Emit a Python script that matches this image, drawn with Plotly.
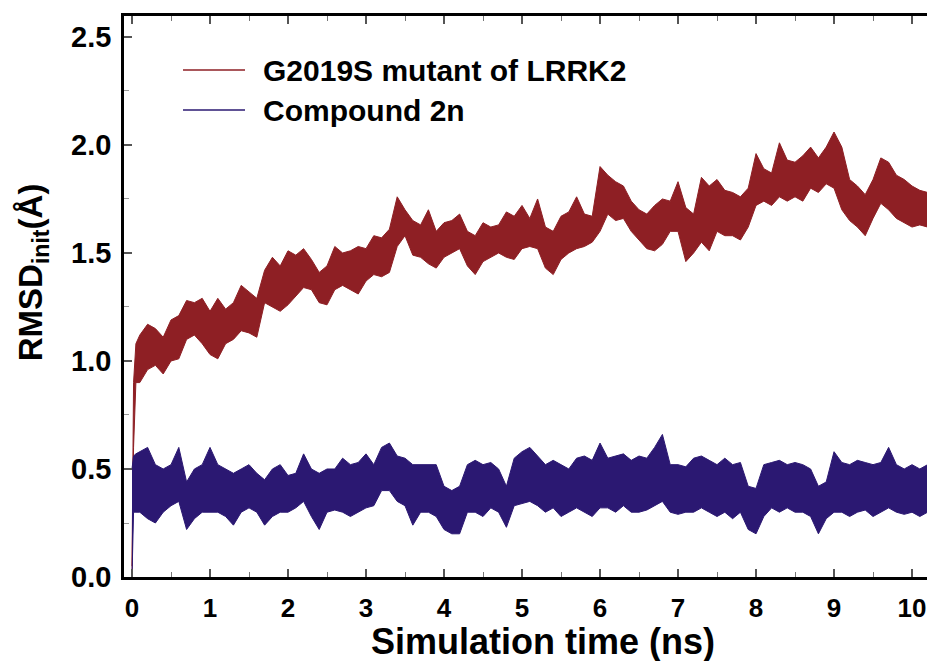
import plotly.graph_objects as go

# ---- data ----
t_start = [0.0, 0.02, 0.05]
t_main = [round(0.1 * i, 1) for i in range(1, 103)]
time_ns = t_start + t_main

mut_hi = [0.05, 0.9, 1.08,
    1.12, 1.17, 1.15, 1.11, 1.19, 1.21, 1.28, 1.27, 1.29, 1.23,
    1.29, 1.24, 1.27, 1.35, 1.32, 1.29, 1.42, 1.48, 1.44, 1.51,
    1.49, 1.52, 1.47, 1.41, 1.44, 1.53, 1.50, 1.51, 1.53, 1.52,
    1.58, 1.57, 1.61, 1.76, 1.70, 1.65, 1.63, 1.70, 1.60, 1.64,
    1.65, 1.68, 1.60, 1.58, 1.64, 1.62, 1.63, 1.69, 1.67, 1.72,
    1.66, 1.75, 1.62, 1.60, 1.67, 1.69, 1.76, 1.68, 1.67, 1.90,
    1.86, 1.83, 1.81, 1.74, 1.70, 1.68, 1.72, 1.75, 1.74, 1.83,
    1.71, 1.68, 1.85, 1.81, 1.84, 1.79, 1.78, 1.76, 1.80, 1.96,
    1.89, 1.87, 2.01, 1.93, 1.92, 1.95, 1.99, 1.94, 1.99, 2.06,
    1.99, 1.84, 1.81, 1.77, 1.84, 1.94, 1.92, 1.86, 1.84, 1.81,
    1.79, 1.78]
mut_lo = [0.0, 0.6, 0.9,
    0.90, 0.96, 0.98, 0.94, 1.00, 1.01, 1.10, 1.12, 1.08, 1.03,
    1.01, 1.08, 1.10, 1.14, 1.13, 1.11, 1.27, 1.25, 1.23, 1.26,
    1.30, 1.34, 1.33, 1.27, 1.26, 1.33, 1.35, 1.33, 1.31, 1.37,
    1.40, 1.39, 1.41, 1.53, 1.58, 1.49, 1.48, 1.45, 1.43, 1.48,
    1.50, 1.52, 1.44, 1.40, 1.46, 1.48, 1.50, 1.48, 1.47, 1.52,
    1.53, 1.52, 1.43, 1.40, 1.47, 1.50, 1.52, 1.53, 1.55, 1.60,
    1.68, 1.65, 1.66, 1.60, 1.56, 1.52, 1.51, 1.54, 1.60, 1.60,
    1.46, 1.50, 1.55, 1.51, 1.60, 1.58, 1.58, 1.56, 1.62, 1.72,
    1.74, 1.72, 1.76, 1.74, 1.76, 1.74, 1.80, 1.78, 1.82, 1.80,
    1.70, 1.65, 1.62, 1.58, 1.66, 1.73, 1.70, 1.66, 1.64, 1.62,
    1.63, 1.62]

cmp_hi = [0.5, 0.56, 0.57,
    0.58, 0.60, 0.52, 0.50, 0.52, 0.60, 0.44, 0.50, 0.52, 0.60,
    0.52, 0.50, 0.48, 0.50, 0.52, 0.48, 0.45, 0.50, 0.52, 0.47,
    0.48, 0.57, 0.50, 0.48, 0.50, 0.50, 0.55, 0.52, 0.53, 0.57,
    0.52, 0.60, 0.62, 0.56, 0.55, 0.52, 0.52, 0.52, 0.52, 0.42,
    0.40, 0.42, 0.52, 0.54, 0.52, 0.53, 0.50, 0.42, 0.55, 0.58,
    0.60, 0.56, 0.52, 0.54, 0.52, 0.50, 0.55, 0.56, 0.54, 0.62,
    0.55, 0.56, 0.57, 0.54, 0.56, 0.55, 0.60, 0.66, 0.52, 0.52,
    0.51, 0.55, 0.56, 0.54, 0.52, 0.55, 0.52, 0.53, 0.42, 0.41,
    0.52, 0.53, 0.54, 0.52, 0.53, 0.52, 0.50, 0.42, 0.44, 0.58,
    0.53, 0.52, 0.54, 0.53, 0.52, 0.53, 0.60, 0.52, 0.50, 0.52,
    0.50, 0.52]
cmp_lo = [0.0, 0.3, 0.3,
    0.30, 0.27, 0.25, 0.30, 0.33, 0.35, 0.22, 0.27, 0.30, 0.30,
    0.30, 0.28, 0.24, 0.30, 0.32, 0.30, 0.24, 0.28, 0.30, 0.30,
    0.32, 0.35, 0.28, 0.22, 0.30, 0.31, 0.30, 0.28, 0.30, 0.32,
    0.33, 0.40, 0.40, 0.35, 0.33, 0.24, 0.30, 0.30, 0.28, 0.22,
    0.20, 0.20, 0.30, 0.30, 0.28, 0.32, 0.30, 0.23, 0.33, 0.34,
    0.35, 0.33, 0.30, 0.32, 0.28, 0.30, 0.32, 0.30, 0.28, 0.32,
    0.32, 0.30, 0.33, 0.30, 0.30, 0.31, 0.33, 0.35, 0.30, 0.29,
    0.30, 0.30, 0.32, 0.30, 0.28, 0.30, 0.27, 0.30, 0.22, 0.20,
    0.28, 0.32, 0.30, 0.32, 0.30, 0.30, 0.28, 0.20, 0.27, 0.30,
    0.30, 0.28, 0.30, 0.31, 0.28, 0.30, 0.32, 0.30, 0.29, 0.30,
    0.28, 0.30]

names = ["G2019S mutant of LRRK2", "Compound 2n"]
colors = ["#8e1f24", "#2b1872"]
x_ticks = list(range(0, 11))
y_ticks = [0.0, 0.5, 1.0, 1.5, 2.0, 2.5]

FONT = "Liberation Sans, Arial, sans-serif"

fig = go.Figure()
for hi, lo, col, nm in [(mut_hi, mut_lo, colors[0], names[0]),
                        (cmp_hi, cmp_lo, colors[1], names[1])]:
    fig.add_trace(go.Scatter(
        x=time_ns + time_ns[::-1], y=hi + lo[::-1],
        mode="lines", fill="toself", fillcolor=col,
        line=dict(color=col, width=1), name=nm, showlegend=False,
        hoverinfo="skip"))

fig.update_layout(
    width=927, height=661,
    margin=dict(l=124, r=0, t=16, b=84),
    paper_bgcolor="white", plot_bgcolor="white",
    font=dict(family=FONT, color="black"),
    showlegend=False,
)
fig.update_xaxes(
    range=[-0.1026, 10.192], tickvals=x_ticks, automargin=False,
    ticks="inside", ticklen=8, tickwidth=1.5, tickcolor="#555",
    minor=dict(dtick=0.5, ticks="inside", ticklen=5, tickwidth=1.2, tickcolor="#777"),
    showline=True, linewidth=2.5, linecolor="black", mirror="ticks",
    showgrid=False, zeroline=False,
    tickfont=dict(family=FONT, size=26, color="black", weight="bold"),
    ticklabelstandoff=6,
)
fig.update_yaxes(
    range=[0, 2.597], tickvals=y_ticks, tickformat=".1f", automargin=False,
    ticks="inside", ticklen=8, tickwidth=1.5, tickcolor="#555",
    minor=dict(dtick=0.25, ticks="inside", ticklen=5, tickwidth=1.2, tickcolor="#999"),
    showline=True, linewidth=2.5, linecolor="black", mirror=False,
    showgrid=False, zeroline=False,
    tickfont=dict(family=FONT, size=29, color="black", weight="bold"),
    ticklabelstandoff=4,
)

# axis titles
fig.add_annotation(
    text="<b>Simulation time (ns)</b>", xref="paper", yref="paper",
    x=0.5218, y=-0.075, xanchor="center", yanchor="top", showarrow=False,
    font=dict(family=FONT, size=36, color="black"))
fig.add_annotation(
    text="<b>RMSD<sub>init</sub>(Å)</b>", xref="paper", yref="paper",
    x=-0.113, y=0.5437, xanchor="center", yanchor="middle", textangle=-90,
    showarrow=False, font=dict(family=FONT, size=33, color="black"))

# legend (drawn as lines + labels)
leg_y = [0.9037, 0.8324]
for nm, col, yy in zip(names, colors, leg_y):
    fig.add_shape(type="line", xref="paper", yref="paper",
                  x0=0.0735, x1=0.1507, y0=yy, y1=yy,
                  line=dict(color=col, width=1.6))
    fig.add_annotation(text="<b>" + nm + "</b>", xref="paper", yref="paper",
                       x=0.1706, y=yy, xanchor="left", yanchor="middle",
                       showarrow=False, font=dict(family=FONT, size=30, color="black"))

fig.write_html(
    "out.html",
    config={"responsive": False, "displayModeBar": False},
    post_script="document.body.style.margin='0';document.body.style.overflow='hidden';",
)
